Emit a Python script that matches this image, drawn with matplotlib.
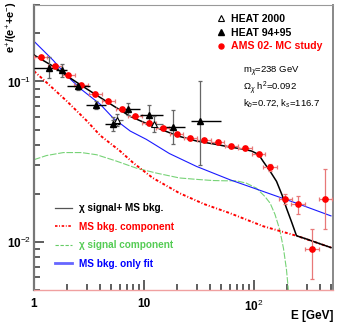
import matplotlib
matplotlib.use('Agg')
from matplotlib import pyplot as plt
from matplotlib import ticker
from matplotlib.lines import Line2D
import numpy as np

# AMS 02 MC study points
ams_e = [1.15, 1.55, 2.05, 2.67, 3.61, 4.73, 6.35, 8.28, 11.1, 14.8, 19.8,
         26.4, 35.1, 46.8, 62.2, 82.8, 110, 140, 193, 251, 336, 445]
ams_f = [0.142, 0.124, 0.109, 0.0953, 0.0838, 0.075, 0.0673, 0.0605, 0.055,
         0.051, 0.0472, 0.0444, 0.0429, 0.0419, 0.0397, 0.0384, 0.0352,
         0.0291, 0.0185, 0.0172, 0.0090, 0.0185]
ams_lo = [0.003, 0.003, 0.0025, 0.002, 0.002, 0.0018, 0.0016, 0.0015, 0.0014,
          0.0013, 0.0012, 0.0012, 0.0011, 0.0011, 0.0011, 0.0011, 0.0011,
          0.0013, 0.0013, 0.0022, 0.0031, 0.0065]
ams_hi = [0.003, 0.003, 0.0025, 0.002, 0.002, 0.0018, 0.0016, 0.0015, 0.0014,
          0.0013, 0.0012, 0.0012, 0.0011, 0.0011, 0.0011, 0.0011, 0.0011,
          0.0013, 0.0013, 0.0022, 0.0030, 0.0100]
ams_xrel = 0.15

# HEAT 94+95 (filled)
heat_e = [1.37, 1.78, 2.53, 3.66, 5.19, 7.2, 11.1, 18.4, 32.3]
heat_f = [0.122, 0.117, 0.093, 0.0716, 0.0543, 0.067, 0.062, 0.0519, 0.057]
heat_flo = [0.017, 0.011, 0.004, 0.004, 0.0052, 0.0055, 0.0085, 0.0113, 0.0267]
heat_fhi = [0.019, 0.012, 0.004, 0.004, 0.0058, 0.0060, 0.0095, 0.0145, 0.0430]
heat_elo = [1.0, 1.6, 2.0, 2.97, 4.42, 6.4, 9.2, 14.0, 26.6]
heat_ehi = [1.66, 2.0, 3.2, 4.51, 6.03, 9.2, 14.8, 23.5, 49.9]

# HEAT 2000 (open)
heat00_e = [5.7, 12.4]
heat00_f = [0.0576, 0.0545]
heat00_ferr = [0.005, 0.006]
heat00_elo = [5.0, 10.2]
heat00_ehi = [6.5, 15.0]

# chi signal + MS bkg
tot_e = [1, 1.5, 2, 3, 5, 7.5, 10, 15, 21, 30, 45, 60, 80, 95, 110, 121,
         140, 160, 180, 197, 220, 243, 300, 400, 500]
tot_f = [0.146, 0.124, 0.108, 0.090, 0.072, 0.0605, 0.0555, 0.0495, 0.0454,
         0.0425, 0.0405, 0.039, 0.0378, 0.0368, 0.035, 0.0317, 0.0275, 0.0238,
         0.0195, 0.0162, 0.0132, 0.0109, 0.0104, 0.0097, 0.0092]

# MS bkg component
bkg_e = [1, 1.5, 2, 3, 4, 6, 8, 12, 21, 35, 60, 121, 243, 500]
bkg_f = [0.116, 0.090, 0.075, 0.057, 0.046, 0.037, 0.031, 0.025, 0.0201,
         0.0172, 0.0151, 0.0125, 0.0109, 0.0092]

# chi signal component
sig_e = [1, 1.3, 1.85, 2.7, 3.7, 5.5, 8.5, 13, 21, 30, 42, 55, 69, 85, 105,
         125, 140, 155, 171, 185, 197, 205]
sig_f = [0.0325, 0.0345, 0.036, 0.036, 0.0349, 0.032, 0.0288, 0.0268, 0.025,
         0.0245, 0.0241, 0.024, 0.024, 0.0232, 0.0216, 0.0192, 0.0174, 0.0148,
         0.0119, 0.0091, 0.0067, 0.005]

# MS bkg only fit
fit_e = [1, 1.5, 2, 2.7, 4, 5.25, 7.5, 10.5, 17, 30, 60, 121, 243, 500]
fit_f = [0.178, 0.135, 0.108, 0.089, 0.072, 0.059, 0.049, 0.0435, 0.0355,
         0.0295, 0.0244, 0.0206, 0.0174, 0.0145]

x_ticks = [1, 10, 100]
x_labels = ['1', '10', r'10$^{2}$']
y_ticks = [0.1, 0.01]
y_labels = [r'10$^{-1}$', r'10$^{-2}$']

BKG_LS = (0, (1.5, 1.0, 0.5, 1.0))


def main():
    plt.rcParams['font.family'] = ['Liberation Sans', 'DejaVu Sans']
    plt.rcParams['mathtext.fontset'] = 'custom'
    plt.rcParams['mathtext.rm'] = 'Liberation Sans'
    plt.rcParams['mathtext.it'] = 'Liberation Sans:italic'
    plt.rcParams['mathtext.bf'] = 'Liberation Sans:bold'

    fig = plt.figure(figsize=(3.4, 3.27), dpi=100)
    ax = fig.add_axes([0.1, 0.113, 0.879, 0.872])
    ax.set_xscale('log')
    ax.set_yscale('log')
    ax.set_xlim(1, 520)
    ax.set_ylim(0.005, 0.30)
    ax.tick_params(which='both', direction='in', length=7.5, width=1.1,
                   color='#333333')
    ax.tick_params(which='minor', length=4)

    # curves
    ax.plot(sig_e, sig_f, color='#77d377', lw=0.8, ls=(0, (6, 1.5)), zorder=2)
    ax.plot(bkg_e, bkg_f, color='red', lw=1.4, ls=BKG_LS, zorder=2)
    ax.plot(fit_e, fit_f, color='#1a1aff', lw=0.8, zorder=2)
    ax.plot(tot_e, tot_f, color='black', lw=1.1, zorder=3)

    # AMS points
    ams_e_arr = np.array(ams_e)
    ax.errorbar(ams_e, ams_f, yerr=[ams_lo, ams_hi],
                xerr=[ams_e_arr - ams_e_arr / (1 + ams_xrel), ams_e_arr * ams_xrel],
                fmt='none', ecolor='#e87878', elinewidth=0.9, capsize=1.5,
                capthick=0.9, zorder=4)
    ax.plot(ams_e, ams_f, 'o', color='red', ms=3.8, mec='red', zorder=5)

    # HEAT 94+95
    he = np.array(heat_e)
    ax.errorbar(heat_e, heat_f, yerr=[heat_flo, heat_fhi], fmt='none',
                ecolor='#666666', elinewidth=0.9, capsize=1.5, capthick=0.9, zorder=4)
    ax.errorbar(heat_e, heat_f, xerr=[he - np.array(heat_elo), np.array(heat_ehi) - he],
                fmt='none', ecolor='black', elinewidth=1.0, zorder=4)
    ax.plot(heat_e, heat_f, '^', color='black', ms=3.8, zorder=6)

    # HEAT 2000
    h0 = np.array(heat00_e)
    ax.errorbar(heat00_e, heat00_f, yerr=heat00_ferr, fmt='none',
                ecolor='#666666', elinewidth=0.9, capsize=1.5, capthick=0.9, zorder=4)
    ax.errorbar(heat00_e, heat00_f, xerr=[h0 - np.array(heat00_elo), np.array(heat00_ehi) - h0],
                fmt='none', ecolor='#666666', elinewidth=0.9, zorder=4)
    ax.plot(heat00_e, heat00_f, '^', mfc='white', mec='black', mew=0.8, ms=3.8, zorder=6)

    # axes styling
    ax.xaxis.set_major_locator(ticker.FixedLocator(x_ticks))
    ax.xaxis.set_major_formatter(ticker.FixedFormatter(x_labels))
    ax.yaxis.set_major_locator(ticker.FixedLocator(y_ticks))
    ax.yaxis.set_major_formatter(ticker.FixedFormatter(y_labels))
    ax.xaxis.set_minor_locator(ticker.LogLocator(base=10, subs=np.arange(2, 10)))
    ax.yaxis.set_minor_locator(ticker.LogLocator(base=10, subs=np.arange(2, 10)))
    ax.yaxis.set_minor_formatter(ticker.NullFormatter())
    ax.xaxis.set_minor_formatter(ticker.NullFormatter())
    for lab in ax.get_xticklabels() + ax.get_yticklabels():
        lab.set_fontsize(8.5)
        lab.set_fontweight('bold')
    ax.tick_params(axis='x', which='major', pad=6, labelsize=8.5)
    ax.tick_params(axis='y', which='major', pad=2, labelsize=8.5)
    ax.spines['left'].set_color('#777777')
    ax.spines['left'].set_linewidth(1.6)
    ax.spines['bottom'].set_color('#f0a0a0')
    ax.spines['bottom'].set_linewidth(1.0)
    ax.spines['right'].set_color('#888888')
    ax.spines['right'].set_linewidth(1.4)
    ax.spines['top'].set_color('#999999')
    ax.spines['top'].set_linewidth(0.8)

    fig.text(12 / 340, 0.995, r'e$^{+}$/(e$^{+}$+e$^{-}$)', rotation=90,
             ha='center', va='top', fontsize=8, fontweight='bold')
    fig.text(333 / 340, 1 - 316 / 327, 'E [GeV]', ha='right', va='center',
             fontsize=8.5, fontweight='bold')

    # top-right legend
    h1 = [Line2D([], [], ls='none', marker='^', mfc='white', mec='black', ms=3.8, mew=0.8),
          Line2D([], [], ls='none', marker='^', color='black', ms=3.8),
          Line2D([], [], ls='none', marker='o', color='red', ms=3.6)]
    leg1 = fig.legend(h1, ['HEAT 2000', 'HEAT 94+95', 'AMS 02- MC study'],
                      loc='upper left', bbox_to_anchor=(0.635, 0.957),
                      frameon=False, handlelength=1.0,
                      handletextpad=0.45, labelspacing=0.35, borderpad=0,
                      borderaxespad=0, prop={'weight': 'bold', 'size': 7.6})
    for t, c in zip(leg1.get_texts(), ['black', 'black', 'red']):
        t.set_color(c)

    fig.text(0.715, 1 - 72 / 327, r'm$_{\chi}$=238 GeV', fontsize=6.8, va='center')
    fig.text(0.715, 1 - 88 / 327, r'$\Omega_{\chi}$ h$^{2}$=0.092', fontsize=6.8, va='center')
    fig.text(0.715, 1 - 102.5 / 327, r'k$_{b}$=0.72, k$_{s}$=116.7', fontsize=6.8, va='center')

    # bottom-left legend
    h2 = [Line2D([], [], color='#555555', lw=0.9),
          Line2D([], [], color='red', lw=1.2, ls=BKG_LS),
          Line2D([], [], color='#66cc66', lw=0.8, ls=(0, (3, 1.5))),
          Line2D([], [], color='#6666ff', lw=2.0)]
    leg2 = fig.legend(h2, [u'\u03c7 signal+ MS bkg.', 'MS bkg. component',
                           u'\u03c7 signal component', 'MS bkg. only fit'],
                      loc='upper left', bbox_to_anchor=(0.163, 0.379),
                      frameon=False, handlelength=1.7, handletextpad=0.7,
                      labelspacing=0.85, borderpad=0, borderaxespad=0,
                      prop={'weight': 'bold', 'size': 7.2})
    for t, c in zip(leg2.get_texts(), ['black', 'red', '#55cc55', 'blue']):
        t.set_color(c)

    fig.savefig('out.png', dpi=100)


if __name__ == '__main__':
    main()
